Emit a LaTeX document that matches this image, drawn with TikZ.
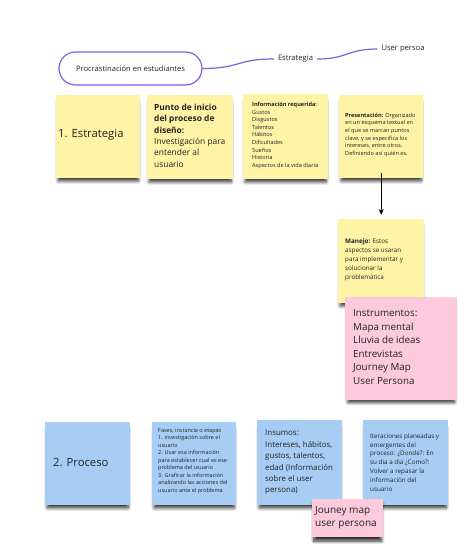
\documentclass[tikz,border=0pt]{standalone}
\usepackage{fontspec}
\setmainfont{Open Sans}
\usetikzlibrary{shadows.blur,arrows.meta}

\definecolor{notaamarilla}{HTML}{FFF3A6}
\definecolor{notaazul}{HTML}{A8CDF4}
\definecolor{notarosa}{HTML}{FDCADD}
\definecolor{morado}{HTML}{8459EC}
\definecolor{tinta}{HTML}{222222}

\begin{document}
\begin{tikzpicture}[
    x=1pt, y=-1pt,
    % Estilos de las notas y de los textos
    nota/.style={fill=#1, anchor=north west, inner sep=0pt,
        blur shadow={shadow xshift=0pt, shadow yshift=-5pt, shadow scale=0.95, shadow blur steps=10, shadow blur radius=3.5pt, shadow opacity=85}},
    texto/.style={anchor=west, align=left, inner sep=0pt, text=tinta},
    mapa/.style={font=\fontsize{7.6}{9}\selectfont, text=tinta, inner sep=4pt},
    rama/.style={draw=morado, line width=1.2pt}
]
\useasboundingbox (0,0) rectangle (474,557);

% ---------------------------------------------------------
% 1. MAPA SUPERIOR
% ---------------------------------------------------------
\node[mapa, draw=morado, line width=1.2pt, rounded corners=16.5pt, minimum width=143pt, minimum height=33pt] (problema) at (130.5,68.5) {Procrastinación en estudiantes};
\node[mapa] (estrategia) at (295.5,59) {Estrategia};
\node[mapa] (userp) at (403,49) {User persoa};

\draw[rama] (problema.east) .. controls +(38,0) and +(-38,0) .. (estrategia.west);
\draw[rama] (estrategia.east) .. controls +(30,0) and +(-30,0) .. (userp.west);

% ---------------------------------------------------------
% 2. ESTRATEGIA (notas amarillas)
% ---------------------------------------------------------
\node[nota=notaamarilla, minimum width=84pt, minimum height=83pt] (n1) at (56,95) {};
\node[texto, font=\fontsize{11.3}{13}\selectfont] (n1t) at (58,135) {1. Estrategia};

\node[nota=notaamarilla, minimum width=86pt, minimum height=84pt] (inicio) at (147,95) {};
\node[texto, font=\fontsize{8.4}{11.3}\selectfont] (iniciot) at (154,135.7) {\textbf{Punto de inicio}\\\textbf{del proceso de}\\\textbf{diseño:}\\Investigación para\\entender al\\usuario};

\node[nota=notaamarilla, minimum width=85pt, minimum height=85pt] (info) at (243,94) {};
\node[texto, font=\fontsize{5.6}{7.6}\selectfont] (infot) at (252,135.5) {\textbf{Información requerida:}\\Gustos\\Disgustos\\Talentos\\Hábitos\\Dificultades\\Sueños\\Historia\\Aspectos de la vida diaria};

\node[nota=notaamarilla, minimum width=84pt, minimum height=83pt] (presentacion) at (339,95) {};
\node[texto, font=\fontsize{5.6}{7.67}\selectfont] (presentaciont) at (345,135) {\textbf{Presentación:} Organizado\\en un esquema textual en\\el que se marcan puntos\\clave, y se especifica los\\intereses, entre otros.\\Definiendo así quién es.};

\node[nota=notaamarilla, minimum width=86pt, minimum height=84pt] (manejo) at (338,219) {};
\node[texto, font=\fontsize{6.3}{9}\selectfont] (manejot) at (345,260) {\textbf{Manejo:} Estos\\aspectos se usaran\\para implementar y\\solucionar la\\problemática};

\draw[-{Stealth[length=6pt, width=5pt]}, line width=0.8pt, shorten <=-5pt, shorten >=4pt] (presentacion.south) -- (manejo.north);

\node[nota=notarosa, minimum width=112pt, minimum height=103pt] (instrumentos) at (345,297) {};
\node[texto, font=\fontsize{9.8}{13.6}\selectfont] (instrumentost) at (353,347) {Instrumentos:\\Mapa mental\\Lluvia de ideas\\Entrevistas\\Journey Map\\User Persona};

% ---------------------------------------------------------
% 3. PROCESO (notas azules)
% ---------------------------------------------------------
\node[nota=notaazul, minimum width=85pt, minimum height=83pt] (n2) at (45,422) {};
\node[texto, font=\fontsize{11.3}{13}\selectfont] (n2t) at (53,462) {2. Proceso};

\node[nota=notaazul, minimum width=84pt, minimum height=83pt] (fases) at (152,422) {};
\node[texto, font=\fontsize{5.5}{7.54}\selectfont] (fasest) at (158,461) {Fases, instancia o etapas\\1. investigación sobre el\\usuario\\2. Usar esa información\\para establecer cual es ese\\problema del usuario\\3. Graficar la información\\analizando las acciones del\\usuario ante el problema};

\node[nota=notaazul, minimum width=85pt, minimum height=85pt] (insumos) at (257,420) {};
\node[texto, font=\fontsize{7.9}{11.4}\selectfont] (insumost) at (265,462.5) {Insumos:\\Intereses, hábitos,\\gustos, talentos,\\edad (Información\\sobre el user\\persona)};

\node[nota=notaazul, minimum width=85pt, minimum height=85pt] (iteraciones) at (363,420) {};
\node[texto, font=\fontsize{6.3}{8.9}\selectfont] (iteracionest) at (370,462.5) {Iteraciones planeadas y\\emergentes del\\proceso: ¿Donde?: En\\su dia a dia ¿Como?:\\Volver a repasar la\\información del\\usuario};

\node[nota=notarosa, minimum width=71pt, minimum height=38pt] (journey) at (312,499) {};
\node[texto, font=\fontsize{10}{13.7}\selectfont] (journeyt) at (315,517.5) {Jouney map\\user persona};

\end{tikzpicture}
\end{document}
